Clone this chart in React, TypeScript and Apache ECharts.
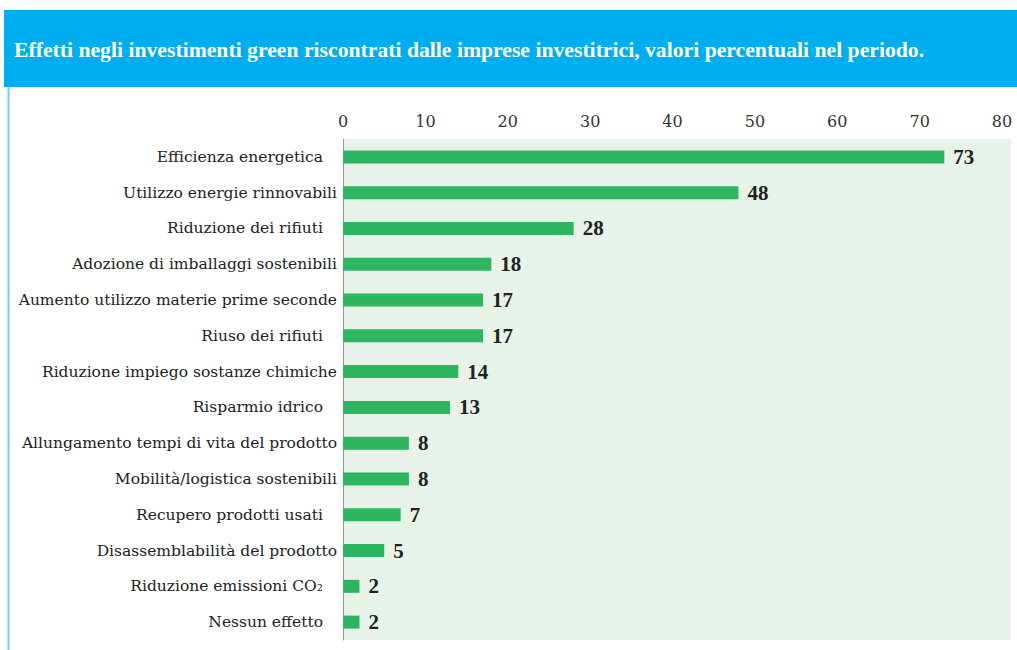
import React, { useEffect, useRef } from "react";
import * as echarts from "echarts";

const titleText =
  "Effetti negli investimenti green riscontrati dalle imprese investitrici, valori percentuali nel periodo.";

const categories = [
  "Efficienza energetica",
  "Utilizzo energie rinnovabili",
  "Riduzione dei rifiuti",
  "Adozione di imballaggi sostenibili",
  "Aumento utilizzo materie prime seconde",
  "Riuso dei rifiuti",
  "Riduzione impiego sostanze chimiche",
  "Risparmio idrico",
  "Allungamento tempi di vita del prodotto",
  "Mobilità/logistica sostenibili",
  "Recupero prodotti usati",
  "Disassemblabilità del prodotto",
  "Riduzione emissioni CO₂",
  "Nessun effetto",
];

const values = [73, 48, 28, 18, 17, 17, 14, 13, 8, 8, 7, 5, 2, 2];

// labels that carry a trailing space in the reference
const paddedLabels = [
  "Efficienza energetica",
  "Riduzione dei rifiuti",
  "Riuso dei rifiuti",
  "Risparmio idrico",
  "Recupero prodotti usati",
  "Riduzione emissioni CO₂",
  "Nessun effetto",
];

const xTicks = { min: 0, max: 80, interval: 10 };

const SERIF = "DejaVu Serif";
const SERIF_B = "Liberation Serif";

export default function App() {
  const ref = useRef<HTMLDivElement>(null);

  useEffect(() => {
    document.body.style.margin = "0";
    const chart = echarts.init(ref.current!, null, { renderer: "svg" });
    chart.setOption({
      animation: false,
      backgroundColor: "#ffffff",
      textStyle: { fontFamily: SERIF },
      grid: { left: 343, right: 15, top: 139, bottom: 10, containLabel: false },
      xAxis: {
        type: "value",
        position: "top",
        min: xTicks.min,
        max: xTicks.max,
        interval: xTicks.interval,
        axisLine: { show: false },
        axisTick: { show: false },
        splitLine: { show: false },
        axisLabel: {
          color: "#333333",
          fontFamily: SERIF,
          fontSize: 16,
          margin: 10,
        },
      },
      yAxis: {
        type: "category",
        inverse: true,
        data: categories,
        axisLine: { show: true, lineStyle: { color: "#999999", width: 1 } },
        axisTick: { show: false },
        axisLabel: {
          margin: 6,
          color: "#222222",
          fontFamily: SERIF,
          fontSize: 15.5,
          formatter: (v: string) =>
            paddedLabels.indexOf(v) >= 0 ? `{p|${v}}` : `{n|${v}}`,
          rich: {
            n: { color: "#222222", fontFamily: SERIF, fontSize: 15.5 },
            p: { color: "#222222", fontFamily: SERIF, fontSize: 15.5, padding: [0, 14, 0, 0] },
          },
        },
      },
      series: [
        {
          type: "bar",
          data: values,
          barWidth: 13,
          itemStyle: { color: "#2db560" },
          label: {
            show: true,
            position: "right",
            distance: 9,
            color: "#222222",
            fontFamily: SERIF_B,
            fontWeight: "bold",
            fontSize: 21,
          },
          z: 3,
        },
      ],
      graphic: [
        {
          type: "rect",
          z: -10,
          shape: { x: 343, y: 139, width: 668, height: 501 },
          style: { fill: "#e7f2e9" },
          silent: true,
        },
        {
          type: "rect",
          z: -5,
          shape: { x: 4, y: 10, width: 1013, height: 77 },
          style: { fill: "#00aeef" },
          silent: true,
        },
        {
          type: "line",
          z: -5,
          shape: { x1: 8.5, y1: 87, x2: 8.5, y2: 650 },
          style: { stroke: "#6cccf2", lineWidth: 2 },
          silent: true,
        },
        {
          type: "text",
          z: 10,
          x: 14,
          y: 50,
          style: {
            text: titleText,
            fill: "#ffffff",
            fontFamily: SERIF_B,
            fontWeight: "bold",
            fontSize: 21.7,
            verticalAlign: "middle",
          },
          silent: true,
        },
      ],
    });
    return () => chart.dispose();
  }, []);

  return (
    <div
      ref={ref}
      style={{ position: "absolute", left: 0, top: 0, width: 1017, height: 650 }}
    />
  );
}
